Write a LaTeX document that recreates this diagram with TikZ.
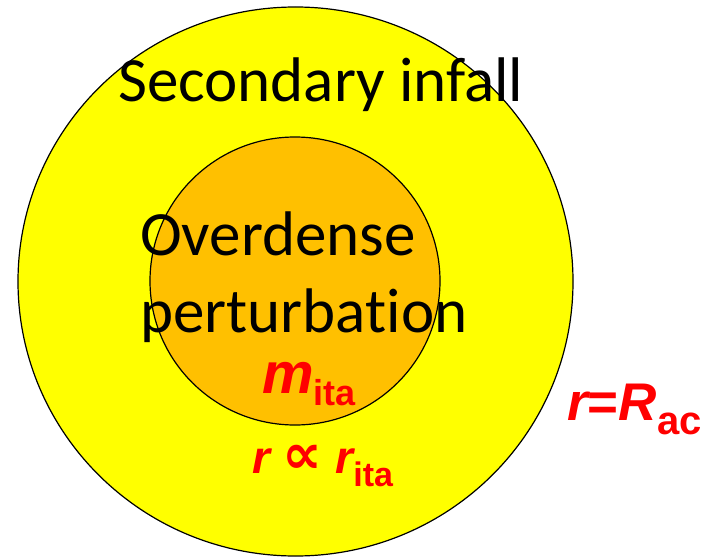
\documentclass[tikz,border=0pt]{standalone}
\usepackage{fontspec}
\setmainfont{Carlito}[Ligatures=CommonOff]
\newfontfamily\arialfont{Liberation Sans}
\newfontfamily\symfont{DejaVu Sans}
\usetikzlibrary{shapes.geometric}

\definecolor{infall}{RGB}{255,255,0}
\definecolor{core}{RGB}{255,192,0}

% lowered subscript: #1 = drop, #2 = size, #3 = text
\newcommand{\lowtext}[3]{\raisebox{-#1}{\fontsize{#2}{#2}\selectfont #3}}

\begin{document}
\begin{tikzpicture}[x=1pt,y=-1pt,
  ring/.style={ellipse,draw=black,line width=1.2pt,inner sep=0pt},
  blacktext/.style={font=\fontsize{63}{77}\selectfont,anchor=base west,inner sep=0pt},
  redtext/.style={text=red,font=\arialfont\bfseries\fontsize{#1}{#1}\selectfont,anchor=base west,inner sep=0pt},
]
  \useasboundingbox (0,0) rectangle (711,556);
  \node[ring,fill=infall,minimum width=555pt,minimum height=549pt] (outer) at (295.5,281.5) {};
  \node[ring,fill=core,minimum width=290pt,minimum height=288pt] (inner) at (295,281) {};

  \node[blacktext] (secondary) at (118,102) {Secondary infall};
  \node[blacktext,align=left] (overdense) at (140,332) {Overdense\\perturbation};

  \node[redtext=58] (mass) at (262,393) {\itshape m\upshape\lowtext{12pt}{36}{ita}};
  \node[redtext=46] (scaling) at (252,473) {\itshape r {\symfont\fontsize{56}{56}\selectfont ∝} r\upshape\lowtext{13pt}{34}{ita}};
  \node[redtext=53] (radius) at (567,420) {\itshape r\upshape=\itshape R\upshape\lowtext{14pt}{40}{ac}};
\end{tikzpicture}
\end{document}
